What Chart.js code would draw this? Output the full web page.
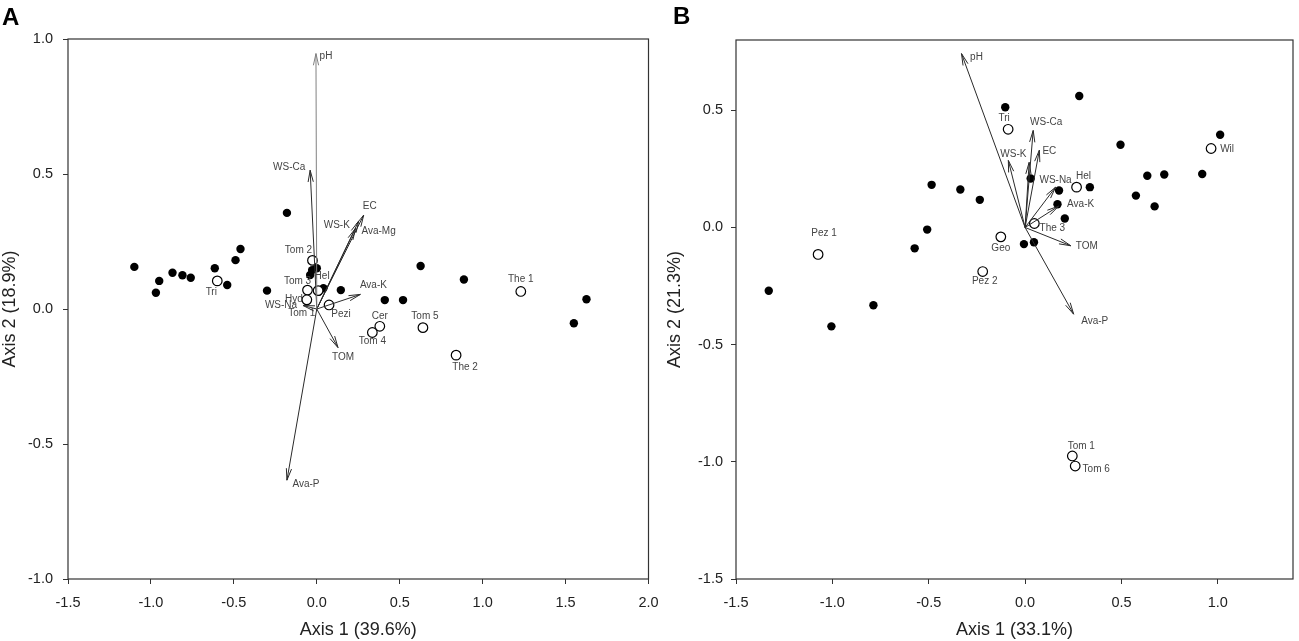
<!DOCTYPE html>
<html><head><meta charset="utf-8">
<script src="https://cdn.jsdelivr.net/npm/chart.js@4/dist/chart.umd.min.js"></script>
<style>
html,body{margin:0;padding:0;background:#fff;width:1299px;height:641px;overflow:hidden}
#ca{position:absolute;left:0;top:0}
#cb{position:absolute;left:660px;top:0}
</style></head><body>
<canvas id="ca" width="660" height="641"></canvas>
<canvas id="cb" width="639" height="641"></canvas>
<script>
// ---------------- DATA: panel A ----------------
const aXTicks = [-1.5, -1.0, -0.5, 0.0, 0.5, 1.0, 1.5, 2.0];
const aYTicks = [-1.0, -0.5, 0.0, 0.5, 1.0];
const aFilledX = [-1.10,-0.97,-0.95,-0.87,-0.81,-0.76,-0.615,-0.54,-0.49,-0.46,-0.30,-0.18,-0.04,-0.028,0.0,0.01,0.04,0.145,0.41,0.52,0.626,0.887,1.55,1.626];
const aFilledY = [0.156,0.06,0.104,0.134,0.125,0.116,0.151,0.089,0.181,0.222,0.068,0.356,0.126,0.144,0.151,0.064,0.077,0.07,0.033,0.033,0.159,0.109,-0.053,0.036];
const aOpenLabels = ['Tri','Tom 2','Tom 3','Hel','Hyd','Tom 1','Pezi','Cer','Tom 4','Tom 5','The 2','The 1'];
const aOpenX = [-0.60,-0.026,-0.056,0.008,-0.06,0.0,0.074,0.38,0.335,0.64,0.84,1.23];
const aOpenY = [0.104,0.18,0.07,0.068,0.034,0.0,0.015,-0.064,-0.087,-0.069,-0.171,0.065];
const aArrowLabels = ['pH','WS-Ca','EC','WS-K','Ava-Mg','Ava-K','WS-Na','TOM','Ava-P'];
const aArrowX = [-0.005,-0.04,0.283,0.253,0.234,0.263,-0.083,0.128,-0.18];
const aArrowY = [0.946,0.514,0.348,0.326,0.299,0.054,0.013,-0.143,-0.634];
const aOrigin = [0, 0];

// ---------------- DATA: panel B ----------------
const bXTicks = [-1.5, -1.0, -0.5, 0.0, 0.5, 1.0];
const bYTicks = [-1.5, -1.0, -0.5, 0.0, 0.5];
const bFilledX = [-1.33,-1.005,-0.787,-0.573,-0.508,-0.485,-0.336,-0.235,-0.103,-0.006,0.046,0.029,0.176,0.168,0.206,0.281,0.336,0.495,0.575,0.634,0.672,0.722,0.919,1.012];
const bFilledY = [-0.27,-0.422,-0.332,-0.089,-0.009,0.182,0.162,0.118,0.513,-0.071,-0.063,0.209,0.158,0.099,0.038,0.561,0.172,0.353,0.136,0.221,0.09,0.226,0.228,0.396];
const bOpenLabels = ['Pez 1','Pez 2','Geo','Tri','Hel','The 3','Wil','Tom 1','Tom 6'];
const bOpenX = [-1.074,-0.22,-0.126,-0.088,0.267,0.048,0.965,0.245,0.26];
const bOpenY = [-0.115,-0.188,-0.04,0.419,0.172,0.017,0.337,-0.975,-1.018];
const bArrowLabels = ['pH','WS-Ca','','EC','WS-K','WS-Na','Ava-K','TOM','Ava-P'];
const bArrowX = [-0.33,0.042,0.021,0.074,-0.087,0.158,0.174,0.237,0.252];
const bArrowY = [0.742,0.414,0.278,0.33,0.286,0.172,0.091,-0.078,-0.37];
const bOrigin = [0, 0];

// ---------------- STYLE (label placement offsets in px, colours) ----------------
const aOpenPos = {'Tri':[-6,11],'Tom 2':[-14,-10],'Tom 3':[-10,-9],'Hel':[4,-14],'Hyd':[-13,-1],'Tom 1':[-15,4],
  'Pezi':[12,9],'Cer':[0,-10],'Tom 4':[0,9],'Tom 5':[2,-11],'The 1':[0,-12],'The 2':[9,12]};
const aArrowPos = {'pH':[10,3],'WS-Ca':[-21,-3],'EC':[6,-9],'WS-K':[-22,4],'Ava-Mg':[23,3],'Ava-K':[13,-9],
  'WS-Na':[-22,0],'TOM':[5,10],'Ava-P':[19,4]};
const aArrowColor = {'pH':'#808080'};
const aHiddenMarkers = ['Tom 1'];
const bOpenPos = {'Pez 1':[6,-21],'Pez 2':[2,10],'Geo':[0,11],'Tri':[-4,-11],'Hel':[7,-11],'The 3':[18,5],
  'Wil':[16,1],'Tom 1':[9,-10],'Tom 6':[21,3]};
const bArrowPos = {'pH':[15,4],'WS-Ca':[13,-8],'EC':[10,1],'WS-K':[5,-6],'WS-Na':[0,-7],'Ava-K':[22,-2],
  'TOM':[16,0],'Ava-P':[21,7]};
const bArrowColor = {};
const bHiddenMarkers = [];

const FONT = "'Liberation Sans', Arial, sans-serif";
Chart.defaults.font.family = FONT;
Chart.defaults.color = '#222';

const annotPlugin = {
  id: 'annot',
  afterDatasetsDraw(chart, args, o) {
    const ctx = chart.ctx, a = chart.chartArea;
    ctx.save();
    ctx.strokeStyle = '#333'; ctx.lineWidth = 1.2;
    ctx.strokeRect(a.left, a.top, a.right - a.left, a.bottom - a.top);
    ctx.font = '10px ' + FONT;
    ctx.textAlign = 'center'; ctx.textBaseline = 'middle';
    chart.data.datasets.forEach((ds, i) => {
      const m = chart.getDatasetMeta(i);
      if (ds.isArrow) {
        const p0 = m.data[0], p1 = m.data[1];
        const ang = Math.atan2(p1.y - p0.y, p1.x - p0.x);
        ctx.strokeStyle = ds.borderColor; ctx.lineWidth = 1;
        ctx.beginPath();
        for (const s of [-1, 1]) {
          ctx.moveTo(p1.x, p1.y);
          ctx.lineTo(p1.x - o.headLen * Math.cos(ang + s * o.headAng), p1.y - o.headLen * Math.sin(ang + s * o.headAng));
        }
        ctx.stroke();
        if (ds.label) {
          const off = o.arrowPos[ds.label] || [0, 0];
          ctx.fillStyle = '#444';
          ctx.fillText(ds.label, p1.x + off[0], p1.y + off[1]);
        }
      } else if (ds.pointLabels) {
        ds.pointLabels.forEach((lab, j) => {
          const p = m.data[j];
          const off = o.openPos[lab] || [0, 0];
          ctx.fillStyle = '#444';
          ctx.fillText(lab, p.x + off[0], p.y + off[1]);
        });
      }
    });
    ctx.font = 'bold 24px ' + FONT;
    ctx.fillStyle = '#000'; ctx.textAlign = 'left'; ctx.textBaseline = 'alphabetic';
    ctx.fillText(o.letter, o.letterX, o.letterY);
    ctx.restore();
  }
};

function pts(xs, ys) { return xs.map((x, i) => ({x: x, y: ys[i]})); }

function makePanel(id, P) {
  const datasets = [];
  datasets.push({
    label: 'filled', data: pts(P.fx, P.fy), order: 2,
    pointRadius: 4.2, pointHoverRadius: 4.2, backgroundColor: '#000', borderColor: '#000', borderWidth: 0
  });
  datasets.push({
    label: 'open', data: pts(P.ox, P.oy), order: 1, pointLabels: P.olab,
    pointRadius: c => P.hidden.includes(P.olab[c.dataIndex]) ? 0 : 4.8,
    backgroundColor: '#fff', borderColor: '#000', borderWidth: 1.2
  });
  P.alab.forEach((lab, i) => {
    datasets.push({
      label: lab, isArrow: true, order: 0, showLine: true, pointRadius: 0,
      data: [{x: P.origin[0], y: P.origin[1]}, {x: P.ax[i], y: P.ay[i]}],
      borderColor: P.acol[lab] || '#2a2a2a', borderWidth: 1
    });
  });
  const fixTicks = arr => (scale) => { scale.ticks = arr.map(v => ({value: v})); };
  return new Chart(document.getElementById(id), {
    type: 'scatter',
    data: {datasets: datasets},
    plugins: [annotPlugin],
    options: {
      responsive: false, animation: false, devicePixelRatio: 1,
      layout: {padding: {top: P.padTop, right: P.padRight, bottom: 0, left: 0}},
      plugins: {
        legend: {display: false}, tooltip: {enabled: false},
        annot: {openPos: P.opos, arrowPos: P.apos, headLen: 12, headAng: 0.22,
                letter: P.letter, letterX: P.letterX, letterY: P.letterY}
      },
      scales: {
        x: {
          type: 'linear', min: P.xmin, max: P.xmax,
          afterBuildTicks: fixTicks(P.xt),
          afterFit: s => { s.height = 62; s.paddingLeft = 0; s.paddingRight = 0; },
          grid: {drawOnChartArea: false, drawTicks: true, tickLength: 5, tickColor: '#333'},
          border: {display: false},
          ticks: {font: {size: 14.5}, color: '#222', padding: 10, maxRotation: 0, autoSkip: false,
                  callback: v => Number(v).toFixed(1)},
          title: {display: true, text: P.xtitle, font: {size: 18, lineHeight: 1}, color: '#222',
                  padding: {top: 0, bottom: 2}}
        },
        y: {
          type: 'linear', min: P.ymin, max: P.ymax,
          afterBuildTicks: fixTicks(P.yt),
          afterFit: s => { s.width = P.yWidth; s.paddingTop = 0; s.paddingBottom = 0; },
          grid: {drawOnChartArea: false, drawTicks: true, tickLength: 5, tickColor: '#333'},
          border: {display: false},
          ticks: {font: {size: 14.5}, color: '#222', padding: P.yPad, autoSkip: false,
                  callback: v => Number(v).toFixed(1)},
          title: {display: true, text: P.ytitle, font: {size: 18, lineHeight: 1}, color: '#222',
                  padding: {top: P.yTitlePad, bottom: 0}}
        }
      }
    }
  });
}

makePanel('ca', {
  fx: aFilledX, fy: aFilledY, ox: aOpenX, oy: aOpenY, olab: aOpenLabels, hidden: aHiddenMarkers,
  ax: aArrowX, ay: aArrowY, alab: aArrowLabels, acol: aArrowColor, origin: aOrigin,
  opos: aOpenPos, apos: aArrowPos, xt: aXTicks, yt: aYTicks,
  xmin: -1.5, xmax: 2.0, ymin: -1.0, ymax: 1.0,
  xtitle: 'Axis 1 (39.6%)', ytitle: 'Axis 2 (18.9%)',
  padTop: 39, padRight: 11.5, yWidth: 68, yPad: 10, yTitlePad: 1,
  letter: 'A', letterX: 2, letterY: 25
});
makePanel('cb', {
  fx: bFilledX, fy: bFilledY, ox: bOpenX, oy: bOpenY, olab: bOpenLabels, hidden: bHiddenMarkers,
  ax: bArrowX, ay: bArrowY, alab: bArrowLabels, acol: bArrowColor, origin: bOrigin,
  opos: bOpenPos, apos: bArrowPos, xt: bXTicks, yt: bYTicks,
  xmin: -1.5, xmax: 1.39, ymin: -1.5, ymax: 0.8,
  xtitle: 'Axis 1 (33.1%)', ytitle: 'Axis 2 (21.3%)',
  padTop: 40, padRight: 2, yWidth: 76, yPad: 8, yTitlePad: 6,
  letter: 'B', letterX: 13, letterY: 24
});
</script></body></html>
